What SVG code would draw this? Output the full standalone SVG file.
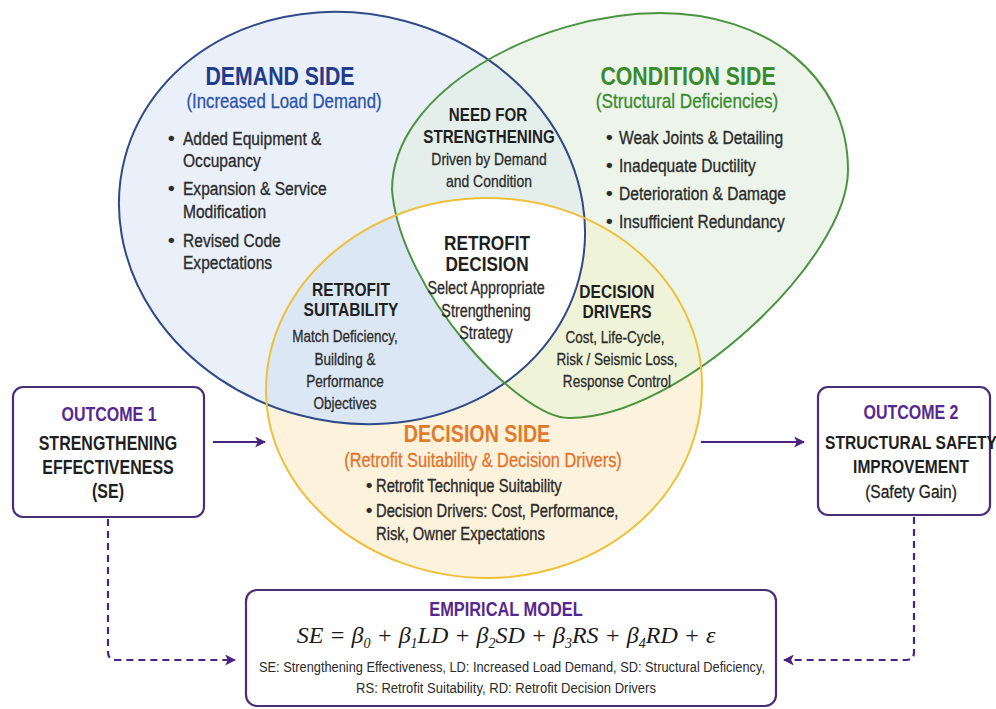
<svg xmlns="http://www.w3.org/2000/svg" width="996" height="709" viewBox="0 0 996 709">
<style>
text{font-family:"Liberation Sans Narrow","Liberation Sans",Arial,sans-serif;}
.b{font-weight:bold;}
.c{text-anchor:middle;}
.n{transform-box:fill-box;transform-origin:center;transform:scaleX(0.82);}
.nl{transform-box:fill-box;transform-origin:left center;transform:scaleX(0.82);}
.body{fill:#2b2b2b;font-size:19px;stroke:#2b2b2b;stroke-width:0.35px;}
.hd{fill:#1f1f1f;font-weight:bold;}
.sm{fill:#2b2b2b;font-size:16.5px;stroke:#2b2b2b;stroke-width:0.3px;}
.pur{fill:#56288f;font-weight:bold;}
.box{fill:#fff;stroke:#4a2d78;stroke-width:2.2;}
.conn{fill:none;stroke:#4a2380;stroke-width:2.2;}
.dash{stroke-dasharray:7 5;}
.eq{font-family:"Liberation Serif","Times New Roman",serif;font-style:italic;fill:#1a1a1a;}
</style>
<defs>
<ellipse id="pB" cx="352" cy="218" rx="235" ry="204" transform="rotate(15 352 218)"/>
<path id="pG" d="M392,190 C392,90 540,13 660,13 C765,13 848,75 848,170 C848,260 680,418 570,418 C520,420 400,290 392,190 Z"/>
<path id="pY" d="M487,198 C610,198 702,285 702,385 C702,495 605,578 487,578 C370,578 266,495 266,390 C266,285 365,198 487,198 Z"/>
<clipPath id="cB"><use href="#pB"/></clipPath>
<clipPath id="cG"><use href="#pG"/></clipPath>
<marker id="ah" viewBox="0 0 10 10" refX="9" refY="5" markerWidth="5" markerHeight="5" orient="auto-start-reverse" markerUnits="strokeWidth">
<path d="M0,0 L10,5 L0,10 L2.5,5 Z" fill="#4a2380"/>
</marker>
</defs>
<rect width="996" height="709" fill="#ffffff"/>

<g id="venn-fills">
<use href="#pB" fill="#e9f0fa"/>
<use href="#pG" fill="#edf5eb"/>
<use href="#pY" fill="#fdf2dc"/>
<g clip-path="url(#cB)"><use href="#pG" fill="#e4eeeb"/></g>
<g clip-path="url(#cB)"><use href="#pY" fill="#dbe7f5"/></g>
<g clip-path="url(#cG)"><use href="#pY" fill="#eff3d8"/></g>
<g clip-path="url(#cB)"><g clip-path="url(#cG)"><use href="#pY" fill="#ffffff"/></g></g>
</g>

<g id="demand-side">
<use href="#pB" fill="none" stroke="#2f4a86" stroke-width="2"/>
<text x="280" y="85" class="c b n" style="font-size:26px;fill:#213c8c">DEMAND SIDE</text>
<text x="284" y="108" class="c n" style="font-size:20.5px;fill:#2d53ad;stroke:#2d53ad;stroke-width:0.3px">(Increased Load Demand)</text>
<g class="body">
<text x="168" y="145">•</text><text x="183" y="145" class="nl">Added Equipment &amp;</text>
<text x="183" y="167" class="nl">Occupancy</text>
<text x="168" y="195">•</text><text x="183" y="195" class="nl">Expansion &amp; Service</text>
<text x="183" y="218" class="nl">Modification</text>
<text x="168" y="247">•</text><text x="183" y="247" class="nl">Revised Code</text>
<text x="183" y="269" class="nl">Expectations</text>
</g>
</g>

<g id="condition-side">
<use href="#pG" fill="none" stroke="#4a9440" stroke-width="2"/>
<text x="688" y="85" class="c b n" style="font-size:26px;fill:#3a8a2e">CONDITION SIDE</text>
<text x="687" y="108" class="c n" style="font-size:21px;fill:#3a8a2e;stroke:#3a8a2e;stroke-width:0.3px">(Structural Deficiencies)</text>
<g class="body">
<text x="606" y="144">•</text><text x="619" y="144" class="nl">Weak Joints &amp; Detailing</text>
<text x="606" y="172">•</text><text x="619" y="172" class="nl">Inadequate Ductility</text>
<text x="606" y="200">•</text><text x="619" y="200" class="nl">Deterioration &amp; Damage</text>
<text x="606" y="228">•</text><text x="619" y="228" class="nl">Insufficient Redundancy</text>
</g>
</g>

<g id="decision-side">
<use href="#pY" fill="none" stroke="#efc03c" stroke-width="2"/>
<text x="477" y="442" class="c b n" style="font-size:24px;fill:#e07a2c">DECISION SIDE</text>
<text x="483" y="467" class="c n" style="font-size:20px;fill:#e2722c;stroke:#e2722c;stroke-width:0.3px">(Retrofit Suitability &amp; Decision Drivers)</text>
<g class="body" style="font-size:18px">
<text x="366" y="492">•</text><text x="376" y="492" class="nl">Retrofit Technique Suitability</text>
<text x="366" y="517">•</text><text x="376" y="517" class="nl">Decision Drivers: Cost, Performance,</text>
<text x="376" y="540" class="nl">Risk, Owner Expectations</text>
</g>
</g>

<g id="need-for-strengthening">
<text x="488" y="121" class="c hd n" style="font-size:18.5px">NEED FOR</text>
<text x="489" y="143" class="c hd n" style="font-size:18.5px">STRENGTHENING</text>
<text x="489" y="165" class="c sm n" style="font-size:17px">Driven by Demand</text>
<text x="489" y="187" class="c sm n" style="font-size:17px">and Condition</text>
</g>

<g id="retrofit-decision">
<text x="487" y="250" class="c hd n" style="font-size:21px">RETROFIT</text>
<text x="487" y="271" class="c hd n" style="font-size:21px">DECISION</text>
<text x="486" y="294" class="c sm n" style="font-size:17.5px">Select Appropriate</text>
<text x="486" y="317" class="c sm n" style="font-size:17.5px">Strengthening</text>
<text x="486" y="339" class="c sm n" style="font-size:17.5px">Strategy</text>
</g>

<g id="retrofit-suitability">
<text x="351" y="296" class="c hd n" style="font-size:19px">RETROFIT</text>
<text x="351" y="316" class="c hd n" style="font-size:19px">SUITABILITY</text>
<text x="345" y="342" class="c sm n">Match Deficiency,</text>
<text x="345" y="365" class="c sm n">Building &amp;</text>
<text x="345" y="387" class="c sm n">Performance</text>
<text x="345" y="409" class="c sm n">Objectives</text>
</g>

<g id="decision-drivers">
<text x="617" y="298" class="c hd n" style="font-size:19px">DECISION</text>
<text x="617" y="318" class="c hd n" style="font-size:19px">DRIVERS</text>
<text x="615" y="343" class="c sm n">Cost, Life-Cycle,</text>
<text x="617" y="365" class="c sm n">Risk / Seismic Loss,</text>
<text x="617" y="387" class="c sm n">Response Control</text>
</g>

<g id="outcome-1">
<rect x="13" y="387" width="191" height="130" rx="10" class="box"/>
<text x="109" y="421" class="c pur n" style="font-size:19.5px">OUTCOME 1</text>
<text x="108" y="450" class="c hd n" style="font-size:19.5px">STRENGTHENING</text>
<text x="108" y="474" class="c hd n" style="font-size:19.5px">EFFECTIVENESS</text>
<text x="108" y="498" class="c hd n" style="font-size:19.5px">(SE)</text>
</g>

<g id="outcome-2">
<rect x="818" y="387" width="172" height="128" rx="10" class="box"/>
<text x="911" y="419" class="c pur n" style="font-size:19.5px">OUTCOME 2</text>
<text x="911" y="449" class="c hd n" style="font-size:19px">STRUCTURAL SAFETY</text>
<text x="911" y="473" class="c hd n" style="font-size:19px">IMPROVEMENT</text>
<text x="911" y="498" class="c n" style="font-size:19px;fill:#222;stroke:#222;stroke-width:0.3px">(Safety Gain)</text>
</g>

<g id="empirical-model">
<rect x="246" y="590" width="530" height="116" rx="11" class="box"/>
<text x="506" y="616" class="c pur n" style="font-size:20px">EMPIRICAL MODEL</text>
<text x="506" y="643" class="c eq" style="font-size:24px">SE = <tspan>β</tspan><tspan font-size="14" dy="5">0</tspan><tspan dy="-5"> + β</tspan><tspan font-size="14" dy="5">1</tspan><tspan dy="-5">LD + β</tspan><tspan font-size="14" dy="5">2</tspan><tspan dy="-5">SD + β</tspan><tspan font-size="14" dy="5">3</tspan><tspan dy="-5">RS + β</tspan><tspan font-size="14" dy="5">4</tspan><tspan dy="-5">RD + ε</tspan></text>
<text x="512" y="672" class="c" style="font-size:14px;fill:#2b2b2b" textLength="506" lengthAdjust="spacingAndGlyphs">SE: Strengthening Effectiveness, LD: Increased Load Demand, SD: Structural Deficiency,</text>
<text x="506" y="693" class="c" style="font-size:14px;fill:#2b2b2b" textLength="300" lengthAdjust="spacingAndGlyphs">RS: Retrofit Suitability, RD: Retrofit Decision Drivers</text>
</g>

<g id="connectors">
<path d="M213,442 H265" class="conn" marker-end="url(#ah)"/>
<path d="M701,442 H804" class="conn" marker-end="url(#ah)"/>
<path d="M108,519 V652 Q108,660 116,660 H235" class="conn dash" marker-end="url(#ah)"/>
<path d="M914,517 V652 Q914,660 906,660 H784" class="conn dash" marker-end="url(#ah)"/>
</g>
</svg>
